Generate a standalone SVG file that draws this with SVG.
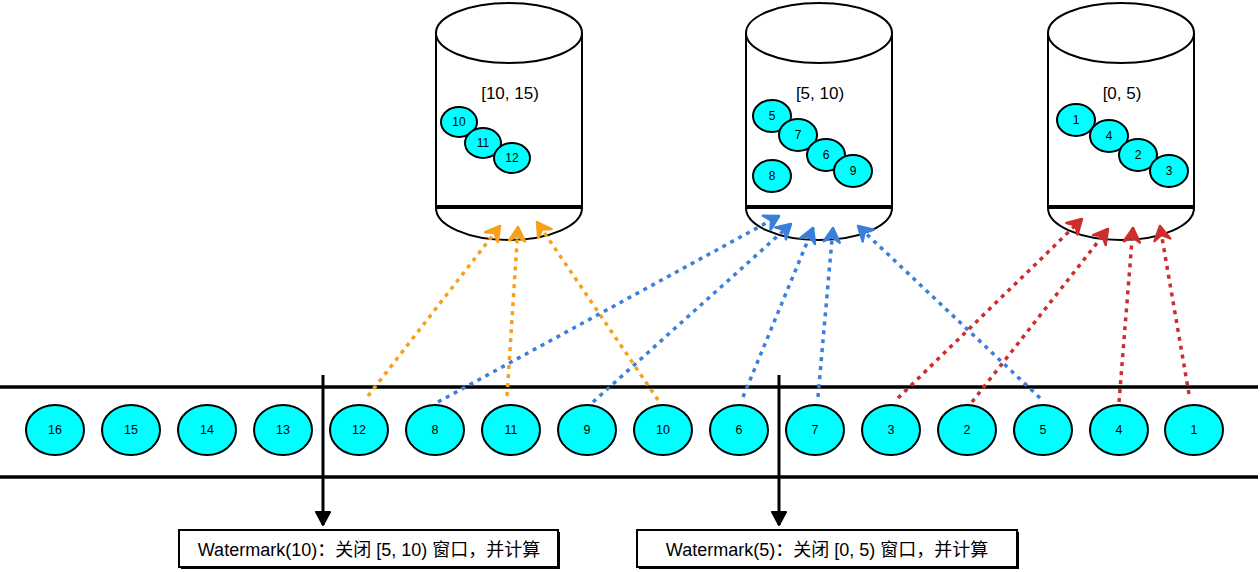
<svg xmlns="http://www.w3.org/2000/svg" width="1260" height="572" viewBox="0 0 1260 572">
<style>
  text { font-family: "Liberation Sans", "Noto Sans CJK SC", sans-serif; fill: #000; text-anchor: middle; dominant-baseline: central; }
  .cyl { fill: #fff; stroke: #000; stroke-width: 2; }
  .ball { fill: #00ffff; stroke: #000; stroke-width: 2; }
  .bl { font-size: 12px; }
  .sl { font-size: 12.5px; }
  .clabel { font-size: 17px; }
  .rail { stroke: #000; stroke-width: 3.5; }
  .dot { fill: none; stroke-width: 3.5; stroke-dasharray: 4 5; }
  .o { stroke: #f7a11a; marker-end: url(#ao); }
  .b { stroke: #3a7fdb; marker-end: url(#ab); }
  .r { stroke: #cc2e2e; marker-end: url(#ar); }
  .wm { stroke: #000; stroke-width: 3; marker-end: url(#ak); }
  .box { fill: #fff; stroke: #000; stroke-width: 2; }
  .boxtext { font-size: 18px; }
</style>
<defs>
  <marker id="ao" markerUnits="userSpaceOnUse" markerWidth="22" markerHeight="22" viewBox="-18 -11 22 22" refX="0" refY="0" orient="auto">
    <path d="M-14,-8 L0,0 L-14,8 L-9,0 Z" fill="#f7a11a" stroke="#f7a11a" stroke-width="2.5" stroke-linejoin="round"/>
  </marker>
  <marker id="ab" markerUnits="userSpaceOnUse" markerWidth="22" markerHeight="22" viewBox="-18 -11 22 22" refX="0" refY="0" orient="auto">
    <path d="M-14,-8 L0,0 L-14,8 L-9,0 Z" fill="#3a7fdb" stroke="#3a7fdb" stroke-width="2.5" stroke-linejoin="round"/>
  </marker>
  <marker id="ar" markerUnits="userSpaceOnUse" markerWidth="22" markerHeight="22" viewBox="-18 -11 22 22" refX="0" refY="0" orient="auto">
    <path d="M-14,-8 L0,0 L-14,8 L-9,0 Z" fill="#cc2e2e" stroke="#cc2e2e" stroke-width="2.5" stroke-linejoin="round"/>
  </marker>
  <marker id="ak" markerUnits="userSpaceOnUse" markerWidth="20" markerHeight="20" viewBox="-16 -10 20 20" refX="0" refY="0" orient="auto">
    <path d="M-13,-7 L0,0 L-13,7 Z" fill="#000" stroke="#000" stroke-width="2" stroke-linejoin="round"/>
  </marker>
</defs>
<rect width="1260" height="572" fill="#fff"/>

<g id="window-10-15">
  <path class="cyl" d="M436,33 L436,206 L582,206 L582,33"/>
  <ellipse class="cyl" cx="509" cy="33" rx="73" ry="30"/>
  <path class="cyl" d="M436,208 L582,208 A73,32 0 0 1 436,208 Z"/>
  <text class="clabel" x="510" y="93">[10, 15)</text>
  <ellipse class="ball" cx="459" cy="122" rx="18" ry="15"/><text class="bl" x="459" y="122">10</text>
  <ellipse class="ball" cx="483" cy="143" rx="18" ry="15"/><text class="bl" x="483" y="143">11</text>
  <ellipse class="ball" cx="512" cy="158" rx="18" ry="15"/><text class="bl" x="512" y="158">12</text>
</g>

<g id="window-5-10">
  <path class="cyl" d="M746,33 L746,206 L892,206 L892,33"/>
  <ellipse class="cyl" cx="819" cy="33" rx="73" ry="30"/>
  <path class="cyl" d="M746,208 L892,208 A73,32 0 0 1 746,208 Z"/>
  <text class="clabel" x="820" y="93">[5, 10)</text>
  <ellipse class="ball" cx="772" cy="116" rx="19" ry="16"/><text class="bl" x="772" y="116">5</text>
  <ellipse class="ball" cx="798" cy="135" rx="19" ry="16"/><text class="bl" x="798" y="135">7</text>
  <ellipse class="ball" cx="826" cy="155" rx="19" ry="16"/><text class="bl" x="826" y="155">6</text>
  <ellipse class="ball" cx="853" cy="171" rx="19" ry="16"/><text class="bl" x="853" y="171">9</text>
  <ellipse class="ball" cx="772" cy="176" rx="19" ry="16"/><text class="bl" x="772" y="176">8</text>
</g>

<g id="window-0-5">
  <path class="cyl" d="M1048,33 L1048,206 L1194,206 L1194,33"/>
  <ellipse class="cyl" cx="1121" cy="33" rx="73" ry="30"/>
  <path class="cyl" d="M1048,208 L1194,208 A73,32 0 0 1 1048,208 Z"/>
  <text class="clabel" x="1122" y="93">[0, 5)</text>
  <ellipse class="ball" cx="1076" cy="120" rx="19" ry="16"/><text class="bl" x="1076" y="120">1</text>
  <ellipse class="ball" cx="1109" cy="136" rx="19" ry="16"/><text class="bl" x="1109" y="136">4</text>
  <ellipse class="ball" cx="1138" cy="155" rx="19" ry="16"/><text class="bl" x="1138" y="155">2</text>
  <ellipse class="ball" cx="1169" cy="171" rx="19" ry="16"/><text class="bl" x="1169" y="171">3</text>
</g>

<g id="stream">
  <line class="rail" x1="0" y1="387" x2="1258" y2="387"/>
  <line class="rail" x1="0" y1="477" x2="1258" y2="477"/>
  <g id="e16"><ellipse class="ball" cx="55" cy="430" rx="29" ry="25"/><text class="sl" x="55" y="430">16</text></g>
  <g id="e15"><ellipse class="ball" cx="131" cy="430" rx="29" ry="25"/><text class="sl" x="131" y="430">15</text></g>
  <g id="e14"><ellipse class="ball" cx="207" cy="430" rx="29" ry="25"/><text class="sl" x="207" y="430">14</text></g>
  <g id="e13"><ellipse class="ball" cx="283" cy="430" rx="29" ry="25"/><text class="sl" x="283" y="430">13</text></g>
  <g id="e12"><ellipse class="ball" cx="359" cy="430" rx="29" ry="25"/><text class="sl" x="359" y="430">12</text></g>
  <g id="e8"><ellipse class="ball" cx="435" cy="430" rx="29" ry="25"/><text class="sl" x="435" y="430">8</text></g>
  <g id="e11"><ellipse class="ball" cx="511" cy="430" rx="29" ry="25"/><text class="sl" x="511" y="430">11</text></g>
  <g id="e9"><ellipse class="ball" cx="587" cy="430" rx="29" ry="25"/><text class="sl" x="587" y="430">9</text></g>
  <g id="e10"><ellipse class="ball" cx="663" cy="430" rx="29" ry="25"/><text class="sl" x="663" y="430">10</text></g>
  <g id="e6"><ellipse class="ball" cx="739" cy="430" rx="29" ry="25"/><text class="sl" x="739" y="430">6</text></g>
  <g id="e7"><ellipse class="ball" cx="815" cy="430" rx="29" ry="25"/><text class="sl" x="815" y="430">7</text></g>
  <g id="e3"><ellipse class="ball" cx="891" cy="430" rx="29" ry="25"/><text class="sl" x="891" y="430">3</text></g>
  <g id="e2"><ellipse class="ball" cx="967" cy="430" rx="29" ry="25"/><text class="sl" x="967" y="430">2</text></g>
  <g id="e5"><ellipse class="ball" cx="1043" cy="430" rx="29" ry="25"/><text class="sl" x="1043" y="430">5</text></g>
  <g id="e4"><ellipse class="ball" cx="1119" cy="430" rx="29" ry="25"/><text class="sl" x="1119" y="430">4</text></g>
  <g id="e1"><ellipse class="ball" cx="1194" cy="430" rx="29" ry="25"/><text class="sl" x="1194" y="430">1</text></g>
</g>

<g id="connectors">
  <line class="dot o" x1="368" y1="396" x2="500" y2="226"/>
  <line class="dot o" x1="507" y1="396" x2="518" y2="227"/>
  <line class="dot o" x1="658" y1="400" x2="537" y2="222"/>
  <line class="dot b" x1="438" y1="402" x2="779" y2="216"/>
  <line class="dot b" x1="593" y1="402" x2="791" y2="224"/>
  <line class="dot b" x1="743" y1="397" x2="813" y2="228"/>
  <line class="dot b" x1="818" y1="397" x2="833" y2="228"/>
  <line class="dot b" x1="1040" y1="398" x2="858" y2="226"/>
  <line class="dot r" x1="898" y1="398" x2="1082" y2="219"/>
  <line class="dot r" x1="972" y1="402" x2="1108" y2="229"/>
  <line class="dot r" x1="1119" y1="402" x2="1133" y2="228"/>
  <line class="dot r" x1="1189" y1="394" x2="1160" y2="226"/>
  <line class="wm" x1="323" y1="375" x2="323" y2="525"/>
  <line class="wm" x1="779" y1="375" x2="779" y2="525"/>
</g>

<g id="watermark-10">
  <rect x="181" y="532" width="379" height="37" fill="#000"/>
  <rect class="box" x="179" y="530" width="379" height="37"/>
  <text class="boxtext" x="369" y="550">Watermark(10)：关闭 [5, 10) 窗口，并计算</text>
</g>

<g id="watermark-5">
  <rect x="639" y="532" width="380" height="37" fill="#000"/>
  <rect class="box" x="637" y="530" width="380" height="37"/>
  <text class="boxtext" x="827" y="550">Watermark(5)：关闭 [0, 5) 窗口，并计算</text>
</g>
</svg>
